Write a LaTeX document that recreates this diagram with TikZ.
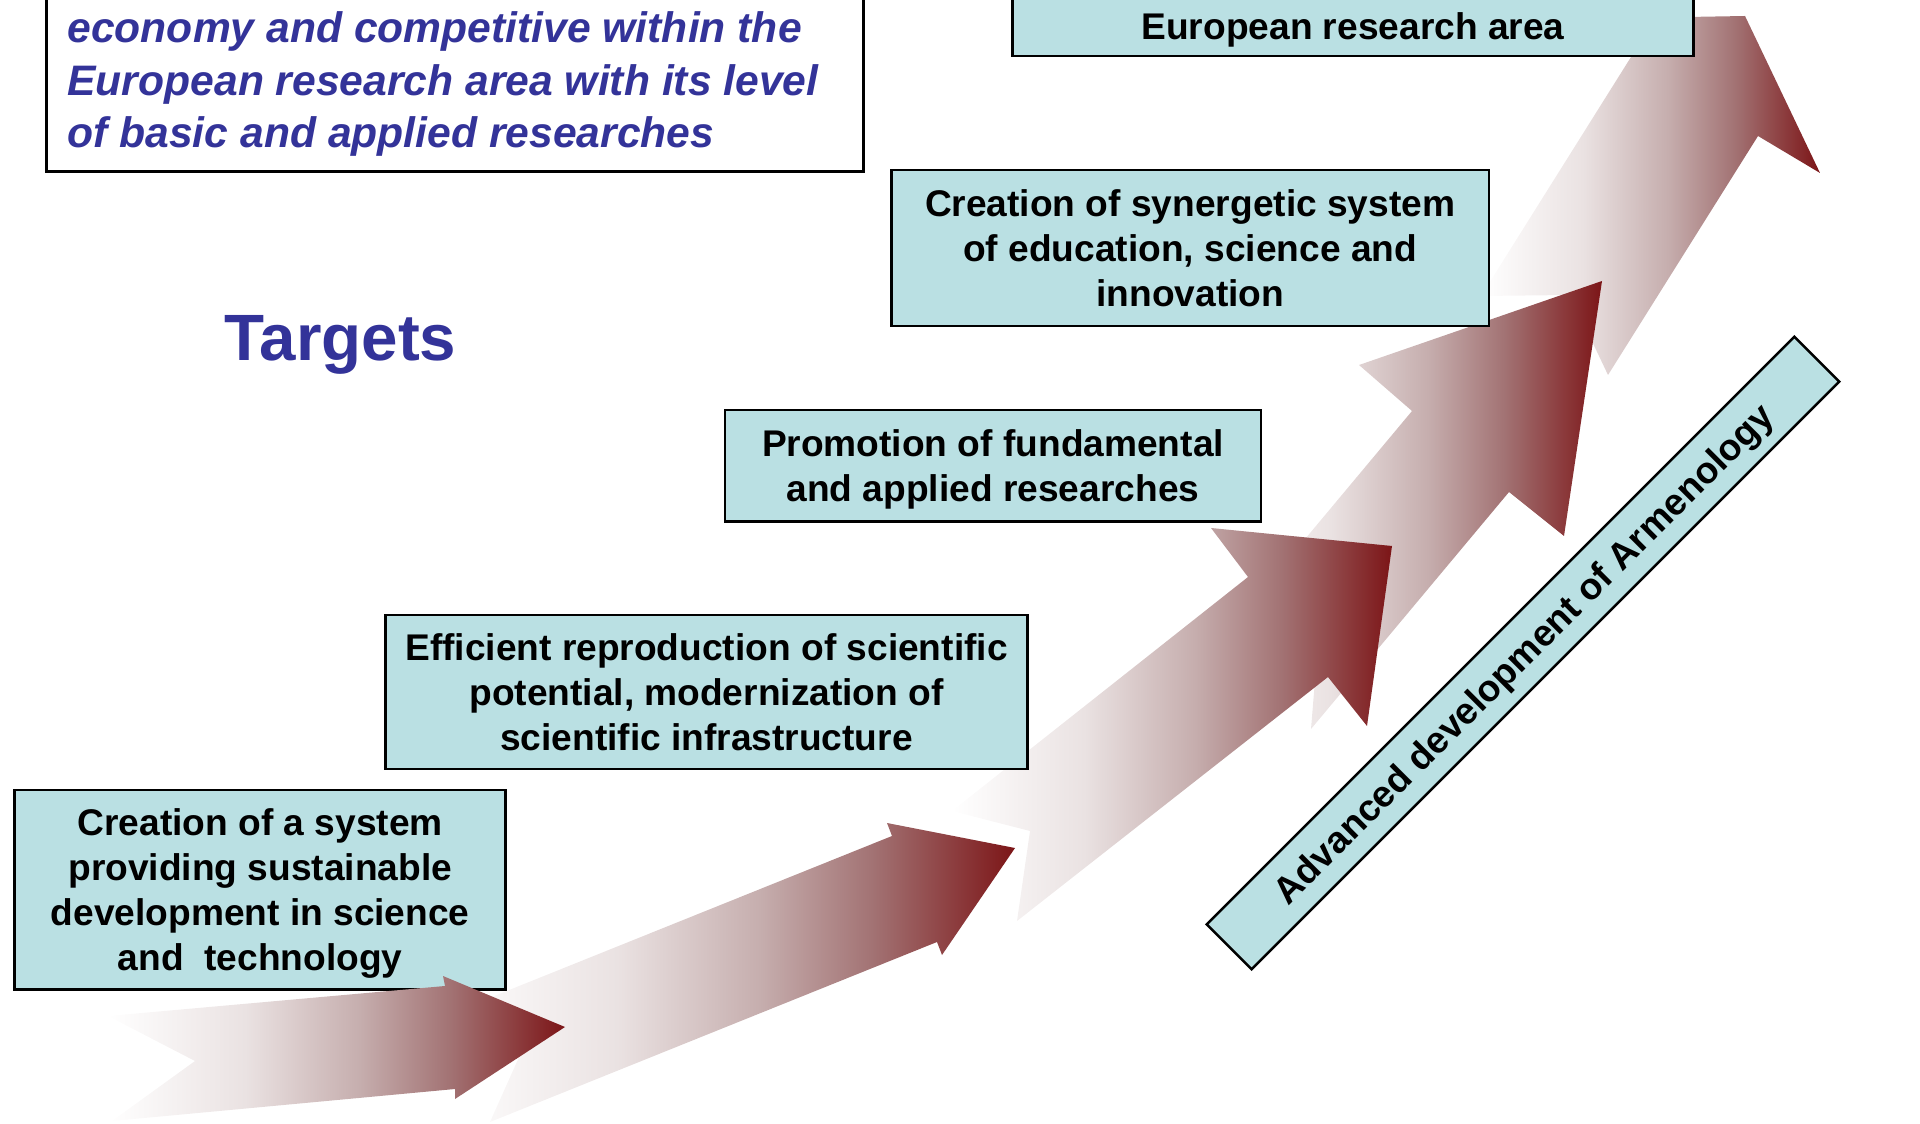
\documentclass[tikz,border=0pt]{standalone}
\usepackage{fontspec}
\setmainfont{Liberation Sans}
\definecolor{boxfill}{RGB}{186,224,227}
\definecolor{goalblue}{RGB}{51,51,153}
\definecolor{arrA}{RGB}{234,226,226}
\definecolor{arrB}{RGB}{198,174,174}
\definecolor{arrC}{RGB}{162,114,115}
\definecolor{arrD}{RGB}{124,21,23}
\pgfdeclarehorizontalshading{arrowshade}{100bp}{color(0bp)=(white); color(25bp)=(white); color(40bp)=(arrA); color(52.5bp)=(arrB); color(62.5bp)=(arrC); color(75bp)=(arrD); color(100bp)=(arrD)}
\newcommand{\boxfont}{\fontsize{14.85pt}{18pt}\selectfont\bfseries}
\newcommand{\goalfont}{\fontsize{17.05pt}{21pt}\selectfont\bfseries\itshape}
\newcommand{\targetfont}{\fontsize{26.2pt}{30pt}\selectfont\bfseries}
\tikzset{
  box/.style={draw=black, line width=1pt, fill=boxfill, align=center, inner sep=0pt, font=\boxfont, text=black, text depth=0pt},
  goaltext/.style={anchor=base west, inner sep=0pt, font=\goalfont, text=goalblue},
  bigarrow/.style={shading=arrowshade, shading angle=0},
}
\begin{document}
\begin{tikzpicture}[x=0.4pt, y=-0.4pt]
\useasboundingbox (0,0) rectangle (1920,1124);
\clip (0,0) rectangle (1920,1124);

% first box (under arrow 1)
\node[box, minimum width=196.4pt, minimum height=79.8pt] (sustain) at (260.2,889.6)
  {Creation of a system\\providing sustainable\\development in science\\and\ \ technology};

% arrows, back to front
\shade[bigarrow] (1481,296) -- (1631,57) -- (1570,19) -- (1745,16) -- (1820,173) -- (1758,136) -- (1608,375) -- (1570,295) -- cycle;
\shade[bigarrow] (1214,648) -- (1412,411) -- (1359,365) -- (1602,281) -- (1564,536) -- (1509,492) -- (1311,729) -- (1320,619) -- cycle;
\shade[bigarrow] (952,811) -- (1248,577) -- (1211,528) -- (1392,546) -- (1367,726) -- (1328,677) -- (1017,921) -- (1030,831) -- cycle;
\shade[bigarrow] (447,1015) -- (892,836) -- (887,823) -- (1015,848) -- (942,955) -- (937,942) -- (490,1122) -- (524,1046) -- cycle;
\shade[bigarrow] (108,1016) -- (445,986) -- (443,976) -- (565,1027) -- (455,1099) -- (455,1089) -- (112,1121) -- (195,1061) -- cycle;

% other boxes
\node[box, minimum width=256.7pt, minimum height=61.7pt] (reprod) at (706.5,691.9)
  {Efficient reproduction of scientific\\potential, modernization of\\scientific infrastructure};
\node[box, minimum width=214.4pt, minimum height=44.6pt] (promo) at (993,466)
  {Promotion of fundamental\\and applied researches};
\node[box, minimum width=239pt, minimum height=62.3pt] (synerg) at (1190.2,247.9)
  {Creation of synergetic system\\of education, science and\\innovation};
\node[box, minimum width=272.3pt, minimum height=60pt, anchor=south] (erabox) at (1353,57.5) {};
\node[anchor=base, inner sep=0pt, font=\boxfont] (eratext) at (1353,39.5) {European research area};

% goal box
\node[draw=black, line width=1pt, fill=white, minimum width=326.7pt, minimum height=100pt, anchor=south west, inner sep=0pt] (goal) at (45.3,172.7) {};
\node[goaltext] (goal1) at (67,43) {economy and competitive within the};
\node[goaltext] (goal2) at (67,95.5) {European research area with its level};
\node[goaltext] (goal3) at (67,148) {of basic and applied researches};

% Targets
\node[anchor=base west, inner sep=0pt, font=\targetfont, text=goalblue] (targets) at (224,361) {Targets};

% diagonal box
\node[box, rotate=45, minimum width=332.4pt, minimum height=25.4pt] (armen) at (1523,653)
  {Advanced development of Armenology};
\end{tikzpicture}
\end{document}
